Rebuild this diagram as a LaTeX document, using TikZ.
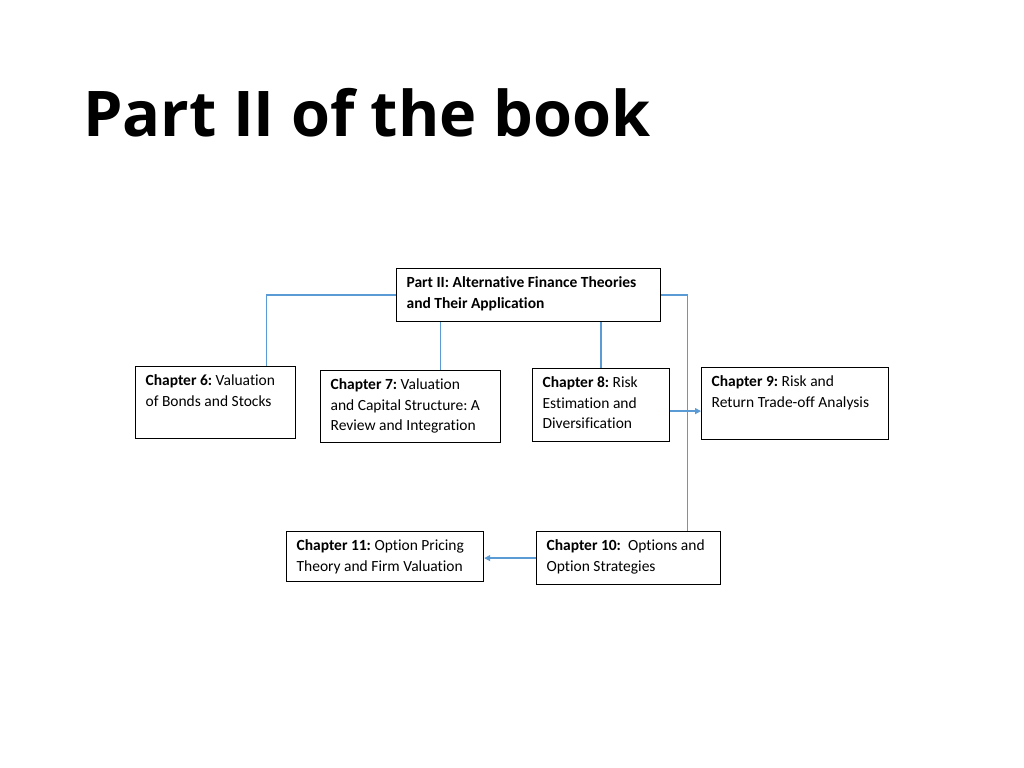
\documentclass[tikz,border=0pt]{standalone}
\usepackage{fontspec}
\setmainfont{Carlito}[Ligatures=NoCommon]
\newfontfamily\titlefont{Open Sans}
\usepackage{tikz}
\usetikzlibrary{arrows.meta, positioning}
\usepackage{xcolor}
\definecolor{linkblue}{RGB}{91, 155, 213}
\frenchspacing

\begin{document}
\begin{tikzpicture}[
    x=1bp, y=-1bp,
    chap/.style={draw, line width=1.2bp, anchor=north west, align=flush left,
                 inner xsep=10bp, inner ysep=9.5bp, text height=9.5bp,
                 font=\fontsize{15.5bp}{20.5bp}\selectfont},
    link/.style={linkblue, line width=1.3bp},
    arrow/.style={link, -{Triangle[length=6bp, width=6bp]}},
  ]
    \useasboundingbox (0,0) rectangle (1024,768);

    % Title
    \node[anchor=base west, inner sep=0pt, font=\titlefont\bfseries\fontsize{63bp}{70bp}\selectfont]
      (title) at (83,136) {Part II of the book};

    % Part node
    \node[chap, text width=244bp, text depth=24.5bp] (part) at (396,268)
      {\textbf{Part II: Alternative Finance Theories}\\\textbf{and Their Application}};

    % Chapter row
    \node[chap, text width=140bp, text depth=43.5bp] (ch6) at (135,366)
      {\textbf{Chapter 6:} Valuation\\of Bonds and Stocks};
    \node[chap, text width=160bp, text depth=43.5bp] (ch7) at (320,370)
      {\textbf{Chapter 7:} Valuation\\and Capital Structure: A\\Review and Integration};
    \node[chap, text width=117bp, text depth=44.5bp] (ch8) at (532,368)
      {\textbf{Chapter 8:} Risk\\Estimation and\\Diversification};
    \node[chap, text width=167bp, text depth=43.5bp] (ch9) at (701,367)
      {\textbf{Chapter 9:} Risk and\\Return Trade-off Analysis};

    % Bottom row
    \node[chap, text width=164bp, text depth=24.5bp] (ch10) at (536,531)
      {\textbf{Chapter 10:}~~Options~and\\Option Strategies};
    \node[chap, text width=177bp, text depth=21.5bp] (ch11) at (286,531)
      {\textbf{Chapter 11:} Option Pricing\\Theory and Firm Valuation};

    % Connectors
    \draw[link] (part.west) -| ([xshift=51bp]ch6.north);
    \draw[link] ([xshift=30bp]ch7.north) -- ([xshift=30bp]ch7.north |- part.south);
    \draw[link] (ch8.north) -- (ch8.north |- part.south);
    \draw[link] (part.east) -| ([xshift=59bp]ch10.north);
    \draw[arrow] ([yshift=-6bp]ch8.east) -- ([yshift=-6bp]ch8.east -| ch9.west);
    \draw[arrow] (ch10.west) -- (ch10.west -| ch11.east);
  \end{tikzpicture}
\end{document}
